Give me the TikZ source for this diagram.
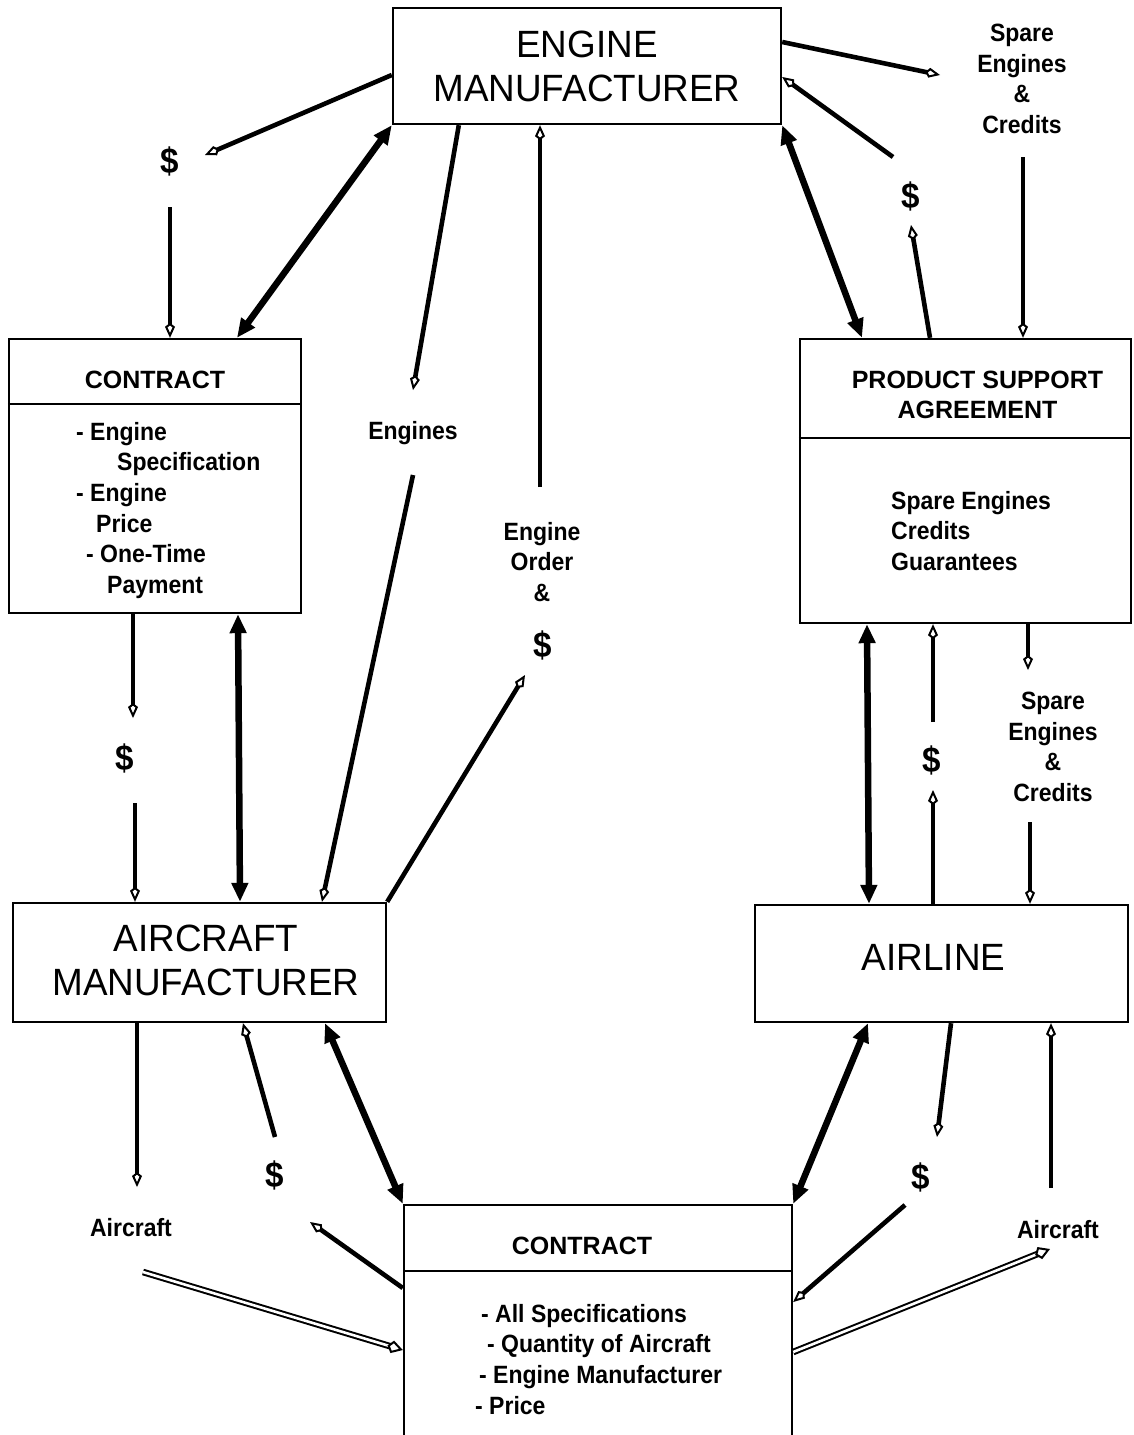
\documentclass[tikz,border=0pt]{standalone}
\usepackage{fontspec}
\setmainfont{Liberation Sans}
\newfontfamily\titlefam{Liberation Sans}[FakeStretch=0.97]
\newfontfamily\labelfam{Liberation Sans}[FakeStretch=0.92]
\usetikzlibrary{arrows.meta,calc}

\tikzset{
  box/.style={draw, line width=2.4pt, rectangle, inner sep=0pt},
  title/.style={font=\titlefam\fontsize{38}{44}\selectfont, align=center, inner sep=0pt},
  lbl/.style={font=\labelfam\bfseries\fontsize{25}{30.6}\selectfont, align=center, inner sep=0pt},
  caps/.style={font=\bfseries\fontsize{25}{30.6}\selectfont, align=center, inner sep=0pt},
  lst/.style={lbl, align=left, anchor=north west},
  money/.style={font=\labelfam\bfseries\fontsize{36}{40}\selectfont, inner sep=0pt},
  smalltip/.tip={Kite[length=15pt,width=10pt,inset=4pt,fill=white,line width=2pt]},
  flow/.style={line width=4.6pt, -smalltip},
  bigtip/.tip={Triangle[length=19pt,width=16pt]},
  link/.style={line width=6.5pt, bigtip-bigtip},
  goods/.style={double=white, double distance=2.6pt, line width=2pt, -{Kite[length=16pt,width=13pt,inset=5pt,fill=white,line width=2pt]}}
}

\begin{document}
\begin{tikzpicture}[x=1pt,y=-1pt]
\useasboundingbox (0,0) rectangle (1134,1435);
\fill[white] (0,0) rectangle (1134,1435);
\clip (0,0) rectangle (1134,1435);

% boxes
\node[box, minimum width=388pt, minimum height=116pt, title] (em) at (587,66) {ENGINE\\MANUFACTURER};
\node[box, minimum width=292pt, minimum height=274pt] (cl) at (155,476) {};
\node[box, minimum width=331pt, minimum height=284pt] (psa) at (965.5,481) {};
\node[box, minimum width=373pt, minimum height=119pt] (am) at (199.5,962.5) {};
\node[box, minimum width=373pt, minimum height=117pt] (al) at (941.5,963.5) {};
\node[box, minimum width=388pt, minimum height=250pt] (cb) at (598,1330) {};

% box dividers
\draw[line width=2.4pt] ([yshift=-66pt]cl.north west) -- ([yshift=-66pt]cl.north east);
\draw[line width=2.4pt] ([yshift=-100pt]psa.north west) -- ([yshift=-100pt]psa.north east);
\draw[line width=2.4pt] ([yshift=-67pt]cb.north west) -- ([yshift=-67pt]cb.north east);

% box texts
\node[title] (amtext) at (206,960) {AIRCRAFT\\MANUFACTURER};
\node[title] (altext) at (933.5,957.5) {AIRLINE};
\node[caps] (cltitle) at (155,380) {CONTRACT};
\node[lst] (clbody) at (76,422) {- Engine\\\hspace*{41pt}Specification\\- Engine\\\hspace*{20pt}Price\\\hspace*{10pt}- One-Time\\\hspace*{31pt}Payment};
\node[caps] (psatitle) at (977.5,395) {PRODUCT SUPPORT\\AGREEMENT};
\node[lst] (psabody) at (891,491) {Spare Engines\\Credits\\Guarantees};
\node[caps] (cbtitle) at (582,1246) {CONTRACT};
\node[lst] (cbbody) at (475,1304) {\hspace*{6pt}- All Specifications\\\hspace*{12pt}- Quantity of Aircraft\\\hspace*{4pt}- Engine Manufacturer\\- Price};

% flow labels
\node[money] (d1) at (170,161) {\$};
\node[money] (d2) at (911,196) {\$};
\node[money] (d3) at (125,758) {\$};
\node[money] (d4) at (932,760) {\$};
\node[money] (d5) at (275,1175) {\$};
\node[money] (d6) at (921,1177) {\$};
\node[money] (d7) at (543,645) {\$};
\node[lbl] (engines) at (413,433) {Engines};
\node[lbl] (order) at (542,562) {Engine\\Order\\\&};
\node[lbl] (spare1) at (1022,79) {Spare\\Engines\\\&\\Credits};
\node[lbl] (spare2) at (1053,747) {Spare\\Engines\\\&\\Credits};
\node[lbl] (air1) at (131,1228) {Aircraft};
\node[lbl] (air2) at (1058,1230) {Aircraft};

% free ends of the flows
\coordinate (d1in) at (205,155);
\coordinate (d1out) at (170,207);
\coordinate (engin) at (413,390);
\coordinate (engout) at (413,475);
\coordinate (ordin) at (525,675);
\coordinate (ordout) at (540,487);
\coordinate (d3in) at (133,718);
\coordinate (d3out) at (135,803);
\coordinate (s1in) at (940,75);
\coordinate (d2in) at (911,225);
\coordinate (d2out) at (893,157);
\coordinate (s1out) at (1023,157);
\coordinate (d4in) at (933,790);
\coordinate (d4out) at (933,722);
\coordinate (s2in) at (1028,670);
\coordinate (s2out) at (1030,822);
\coordinate (a1in) at (137,1187);
\coordinate (a1out) at (143,1272);
\coordinate (d5in) at (310,1222);
\coordinate (d5out) at (275,1137);
\coordinate (d6in) at (937,1137);
\coordinate (d6out) at (905,1205);
\coordinate (a2in) at (1050,1249);
\coordinate (a2out) at (1051,1188);

% engine manufacturer <-> engine contract
\draw[flow] ([yshift=-9pt]em.west) -- (d1in);
\draw[flow] (d1out) -- (cl.north -| d1out);
\draw[link] (em.south west) -- ([xshift=82pt]cl.north);

% engines and engine orders
\draw[flow] ([xshift=67pt]em.south west) -- (engin);
\draw[flow] (engout) -- ([xshift=122.5pt]am.north);
\draw[flow] (am.north east) -- (ordin);
\draw[flow] (ordout) -- (em.south -| ordout);

% engine contract <-> aircraft manufacturer
\draw[flow] (cl.south -| d3in) -- (d3in);
\draw[flow] (d3out) -- (am.north -| d3out);
\draw[link] ([xshift=83pt]cl.south) -- ([xshift=40.5pt]am.north);

% engine manufacturer <-> product support agreement
\draw[flow] ([yshift=24pt]em.east) -- (s1in);
\draw[flow] ([xshift=-35.5pt]psa.north) -- (d2in);
\draw[flow] (d2out) -- ([yshift=-11pt]em.east);
\draw[link] (em.south east) -- ([xshift=-103.5pt]psa.north);
\draw[flow] (s1out) -- (psa.north -| s1out);

% product support agreement <-> airline
\draw[link] ([xshift=-98.5pt]psa.south) -- ([xshift=-72.5pt]al.north);
\draw[flow] (al.north -| d4in) -- (d4in);
\draw[flow] (d4out) -- (psa.south -| d4out);
\draw[flow] (psa.south -| s2in) -- (s2in);
\draw[flow] (s2out) -- (al.north -| s2out);

% aircraft manufacturer <-> aircraft contract
\draw[flow] (am.south -| a1in) -- (a1in);
\draw[goods] (a1out) -- ([yshift=-20pt]cb.west);
\draw[flow] (d5out) -- ([xshift=43.5pt]am.south);
\draw[flow] ([yshift=42pt]cb.west) -- (d5in);
\draw[link] ([xshift=125.5pt]am.south) -- (cb.north west);

% airline <-> aircraft contract
\draw[link] (cb.north east) -- ([xshift=-73.5pt]al.south);
\draw[flow] ([xshift=9.5pt]al.south) -- (d6in);
\draw[flow] (d6out) -- ([yshift=28pt]cb.east);
\draw[flow] (a2out) -- (al.south -| a2out);
\draw[goods] ([yshift=-22pt]cb.east) -- (a2in);
\end{tikzpicture}
\end{document}
